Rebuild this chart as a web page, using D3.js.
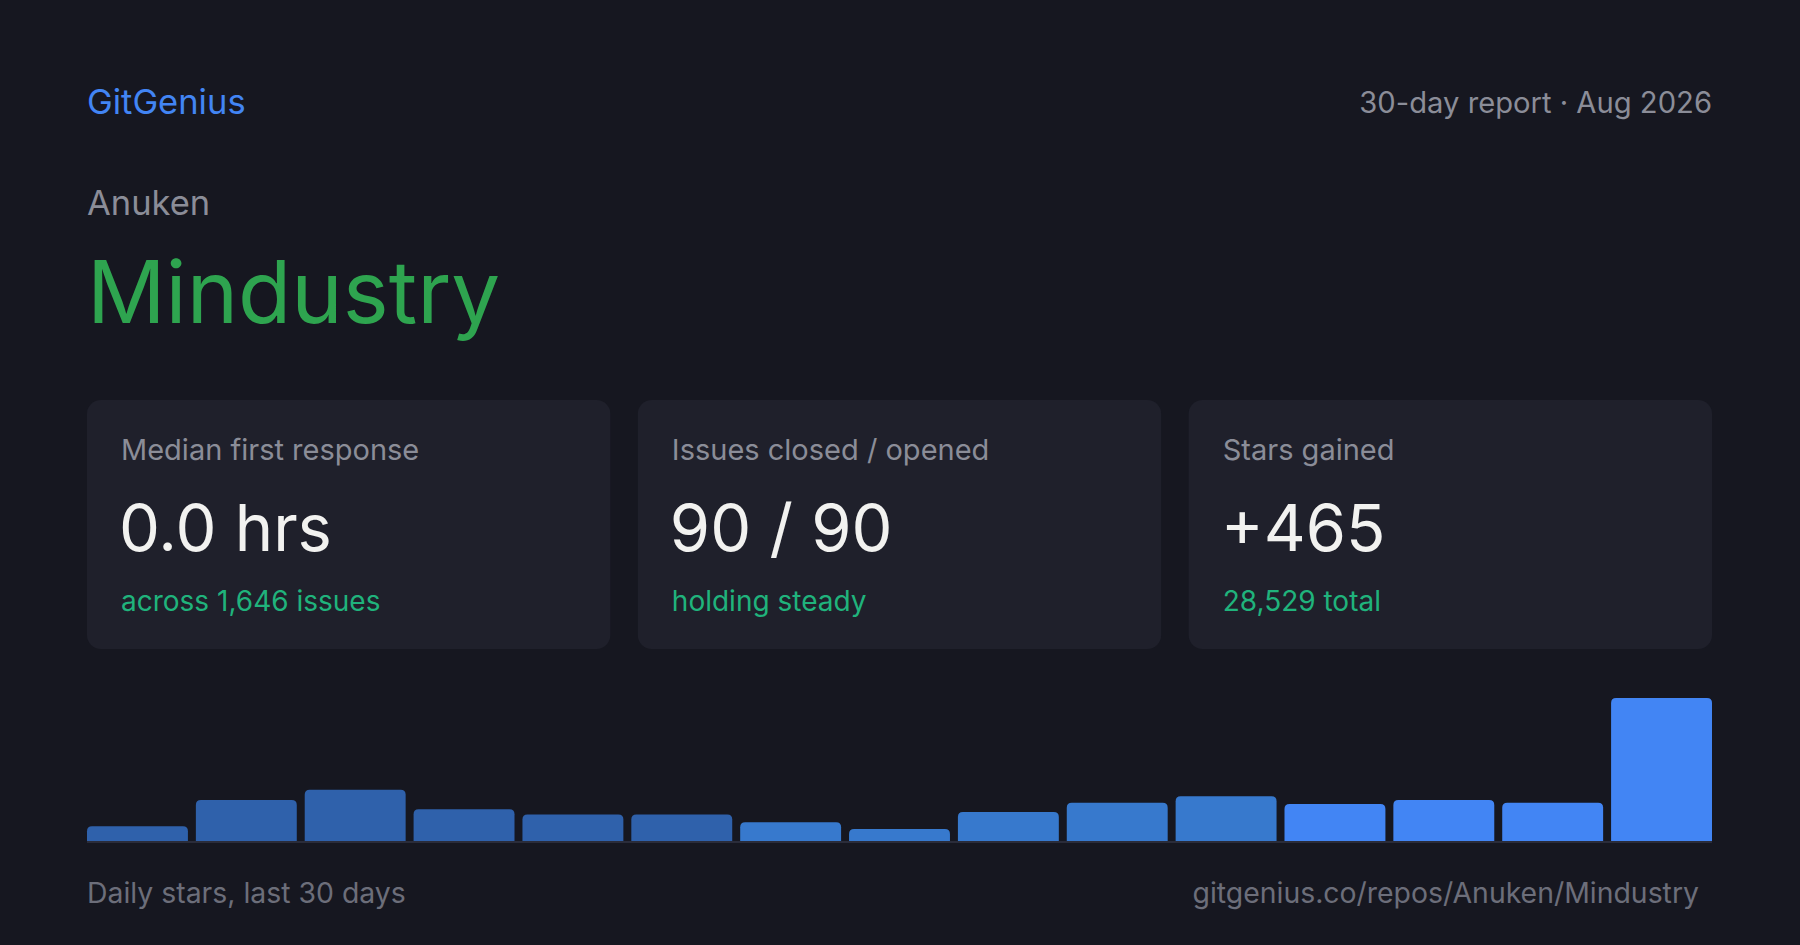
<!DOCTYPE html>
<html>
<head>
<meta charset="utf-8">
<script src="https://cdn.jsdelivr.net/npm/d3@7"></script>
<style>
  html, body { margin: 0; padding: 0; background: #161720; }
  svg text { font-family: Inter, "Noto Sans", sans-serif; }
</style>
</head>
<body>
<div class="chart"></div>
<script>
// data
var days = ["d1","d2","d3","d4","d5","d6","d7","d8","d9","d10","d11","d12","d13","d14","d15"];
var dailyStars = [12, 32, 40, 25, 21, 21, 15, 10, 23, 30, 35, 29, 32, 30, 110];

var cardLabels = ["Median first response", "Issues closed / opened", "Stars gained"];
var cardValues = ["0.0 hrs", "90 / 90", "+465"];
var cardNotes = ["across 1,646 issues", "holding steady", "28,529 total"];

var brand = "GitGenius";
var period = "30-day report \u00b7 Aug 2026";
var owner = "Anuken";
var repo = "Mindustry";
var chartNote = "Daily stars, last 30 days";
var repoUrl = "gitgenius.co/repos/Anuken/Mindustry";

var svgWidth = 1800;
var svgHeight = 945;
var left = 87, right = 1712;

var svg = d3.select(".chart")
  .append("svg")
  .attr("width", svgWidth)
  .attr("height", svgHeight);

svg.append("rect")
  .attr("width", svgWidth)
  .attr("height", svgHeight)
  .attr("fill", "#161720");

// header
svg.append("text")
  .attr("x", left).attr("y", 114)
  .attr("fill", "#4285f4")
  .style("font-size", "34.5px")
  .text(brand);

svg.append("text")
  .attr("x", right).attr("y", 113)
  .attr("text-anchor", "end")
  .attr("fill", "#8b8d98")
  .style("font-size", "29.2px")
  .text(period);

svg.append("text")
  .attr("x", left).attr("y", 215)
  .attr("fill", "#8b8d98")
  .style("font-size", "34.5px")
  .text(owner);

svg.append("text")
  .attr("x", left).attr("y", 323)
  .attr("fill", "#2ea44f")
  .style("font-size", "87px")
  .text(repo);

// stat cards
var cardX = d3.scaleBand()
  .domain(d3.range(cardLabels.length))
  .range([left, right])
  .paddingInner(0.05);

var cards = svg.selectAll(".card")
  .data(cardLabels)
  .enter()
  .append("g")
  .attr("class", "card")
  .attr("transform", (d, i) => `translate(${cardX(i)}, 400)`);

cards.append("rect")
  .attr("width", cardX.bandwidth())
  .attr("height", 249)
  .attr("rx", 14)
  .attr("fill", "#1f202b");

cards.append("text")
  .attr("x", 34).attr("y", 60)
  .attr("fill", "#8b8d98")
  .style("font-size", "29px")
  .text(d => d);

cards.append("text")
  .attr("x", 32).attr("y", 151)
  .attr("fill", "#f2f2f0")
  .style("font-size", "65px")
  .text((d, i) => cardValues[i]);

cards.append("text")
  .attr("x", 34).attr("y", 211)
  .attr("fill", "#20b37c")
  .style("font-size", "28px")
  .text((d, i) => cardNotes[i]);

// daily stars bars
var baseY = 842;
var x = d3.scaleBand()
  .domain(days)
  .range([left, right])
  .paddingInner(0.073);

var y = d3.scaleLinear()
  .domain([0, d3.max(dailyStars)])
  .range([baseY, 698]);

var barColor = d3.scaleThreshold()
  .domain([6, 11])
  .range(["#2f61ab", "#3779cd", "#4285f4"]);

function topRounded(x0, y0, w, h, r) {
  r = Math.min(r, h, w / 2);
  return `M${x0},${y0 + h}V${y0 + r}Q${x0},${y0} ${x0 + r},${y0}` +
    `H${x0 + w - r}Q${x0 + w},${y0} ${x0 + w},${y0 + r}V${y0 + h}Z`;
}

svg.selectAll(".bar")
  .data(dailyStars)
  .enter()
  .append("path")
  .attr("class", "bar")
  .attr("d", (d, i) => topRounded(x(days[i]), y(d), x.bandwidth(), baseY - y(d), 5))
  .attr("fill", (d, i) => barColor(i));

svg.append("line")
  .attr("x1", left).attr("x2", right)
  .attr("y1", baseY).attr("y2", baseY)
  .attr("stroke", "#2a2c3a")
  .attr("stroke-width", 2);

// footer
svg.append("text")
  .attr("x", left).attr("y", 903)
  .attr("fill", "#6c6e7a")
  .style("font-size", "28.4px")
  .text(chartNote);

svg.append("text")
  .attr("x", 1699).attr("y", 903)
  .attr("text-anchor", "end")
  .attr("fill", "#6c6e7a")
  .style("font-size", "28.4px")
  .text(repoUrl);
</script>
</body>
</html>
